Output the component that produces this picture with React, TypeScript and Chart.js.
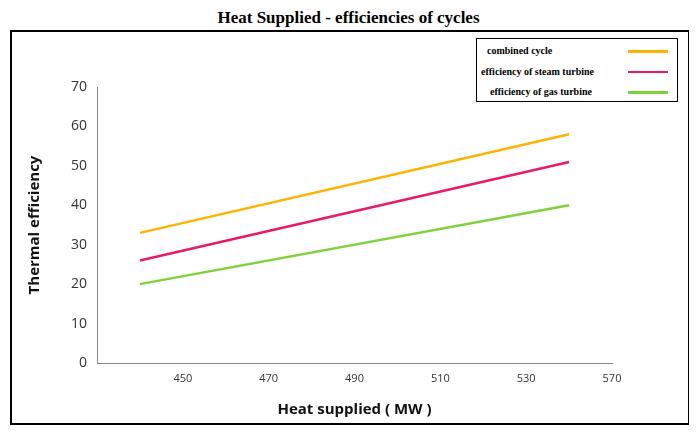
import React, { useEffect, useRef } from "react";
import { Chart, registerables } from "chart.js";
Chart.register(...registerables);

const heatSupplied = [440, 540];
const combinedCycle = [33, 58];
const steamTurbine = [26, 51];
const gasTurbine = [20, 40];
const xTickValues = [450, 470, 490, 510, 530, 550];
const xTickLabels = ["450", "470", "490", "510", "530", "570"];
const seriesNames = ["combined cycle", "efficiency of steam turbine", "efficiency of gas turbine"];
const seriesColors = ["#FFB300", "#E8196E", "#7ED33A"];

export default function App() {
  const ref = useRef<HTMLCanvasElement>(null);
  useEffect(() => {
    const mk = (vals: number[]) => heatSupplied.map((x, i) => ({ x, y: vals[i] }));
    const all = [combinedCycle, steamTurbine, gasTurbine];
    const chart = new Chart(ref.current!, {
      type: "line",
      data: {
        datasets: all.map((v, i) => ({
          label: seriesNames[i], data: mk(v), borderColor: seriesColors[i],
          borderWidth: 2.5, pointRadius: 0, fill: false,
        })),
      },
      options: {
        animation: false, responsive: false,
        layout: { padding: { top: 55, right: 76, left: 10, bottom: 0 } },
        plugins: { legend: { display: false }, tooltip: { enabled: false } },
        scales: {
          x: {
            type: "linear", min: 430, max: 550,
            afterBuildTicks: (s: any) => { s.ticks = xTickValues.map((v) => ({ value: v })); },
            ticks: { color: "#333", font: { family: "Open Sans", size: 11 },
              callback: (v: any) => { const i = xTickValues.indexOf(Number(v)); return i < 0 ? "" : xTickLabels[i]; } },
            grid: { display: false, drawTicks: true, tickLength: 6, color: "#888" },
            border: { color: "#888" },
            title: { display: true, text: "Heat supplied ( MW )", color: "#111",
              font: { family: "Open Sans", size: 15, weight: "bold" }, padding: { top: 4 } },
            afterFit: (s: any) => { s.height = 60; },
          },
          y: {
            min: 0, max: 70,
            ticks: { stepSize: 10, color: "#333", font: { family: "Open Sans", size: 14 }, padding: 10 },
            grid: { display: false, drawTicks: false },
            border: { color: "#888" },
            title: { display: true, text: "Thermal efficiency", color: "#111",
              font: { family: "Open Sans", size: 15, weight: "bold" } },
            afterFit: (s: any) => { s.width = 75; },
          },
        },
      },
    });
    return () => chart.destroy();
  }, []);
  return (
    <div style={{ position: "relative", width: 681, height: 418 }}>
      <div style={{ position: "absolute", left: 0, top: 0, width: 697 - 16, textAlign: "center",
        fontFamily: "'Liberation Serif', serif", fontWeight: "bold", fontSize: 17 }}>
        Heat Supplied - efficiencies of cycles
      </div>
      <div style={{ position: "absolute", left: 2, top: 22, width: 676, height: 391, border: "2px solid #000" }}>
        <canvas ref={ref} width={676} height={391} style={{ display: "block" }} />
        <div style={{ position: "absolute", left: 464, top: 6, width: 200, height: 62, border: "1px solid #000",
          fontFamily: "'Liberation Serif', serif", fontWeight: "bold", fontSize: 10, background: "#fff" }}>
          {seriesNames.map((n, i) => (
            <div key={n} style={{ position: "absolute", top: 6 + i * 20.5, left: 0, width: 200, height: 14 }}>
              <span style={{ position: "absolute", left: [10, 4, 13][i], top: 0 }}>{n}</span>
              <span style={{ position: "absolute", left: 151, top: 5, width: 40, height: 2.5, background: seriesColors[i] }} />
            </div>
          ))}
        </div>
      </div>
    </div>
  );
}
